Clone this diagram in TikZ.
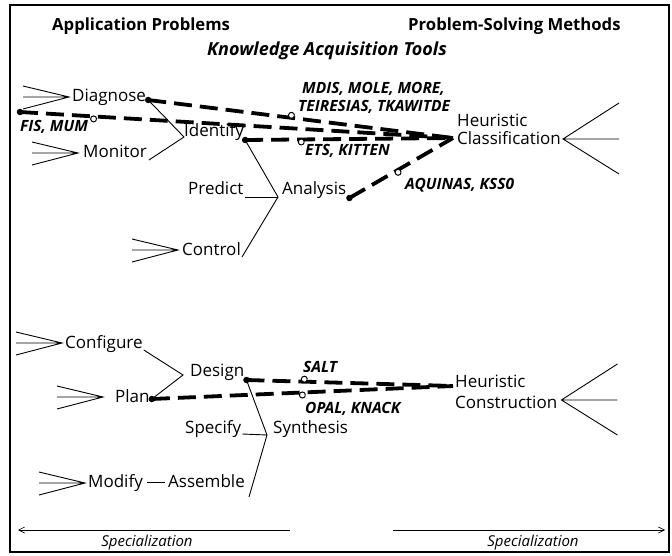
\documentclass[tikz,border=0pt]{standalone}
\usepackage{fontspec}
\setmainfont{Open Sans}
\usetikzlibrary{calc,arrows.meta}
\begin{document}
\begin{tikzpicture}[x=1pt,y=-1pt,
  lbl/.style={font=\fontsize{17}{20}\selectfont, inner sep=0pt, anchor=base west},
  head/.style={font=\bfseries\fontsize{16.7}{19}\selectfont, inner sep=0pt, anchor=base west},
  khead/.style={font=\bfseries\itshape\fontsize{18}{21}\selectfont, inner sep=0pt, anchor=base west},
  tool/.style={font=\bfseries\itshape\fontsize{15.5}{17}\selectfont, inner sep=0pt, anchor=base west},
  spec/.style={font=\itshape\fontsize{15}{17}\selectfont, inner sep=0pt, anchor=base},
  link/.style={line width=0.9pt},
  kat/.style={line width=3.8pt, dash pattern=on 18pt off 8pt},
  dotb/.style={circle, fill, inner sep=0pt, minimum size=6.5pt},
  ring/.style={circle, draw, fill=white, inner sep=0pt, minimum size=6pt, line width=1pt},
  fanin/.pic={\draw[link] (-46,-11) -- (0,0) -- (-46,12) (-46,0) -- (0,0);},
  fanout/.pic={\draw[link] (56,-36) -- (0,0) -- (56,35) (0,0) -- (56,0);}
]
\useasboundingbox (0,0) rectangle (672,556);
% outer frame
\draw[line width=1.5pt] (10,5) rectangle (669,552);

% column headings
\node[head] (ap) at (52,31) {Application Problems};
\node[head] (psm) at (408,31) {Problem-Solving Methods};
\node[khead] (katitle) at (207,56) {Knowledge Acquisition Tools};

% ---- analysis tree ----
\node[lbl] (diag) at (72,102) {Diagnose};
\node[lbl] (mon) at (83,158) {Monitor};
\node[lbl] (ident) at (184,137) {Identify};
\node[lbl] (pred) at (188,195) {Predict};
\node[lbl] (anal) at (282,195) {Analysis};
\node[lbl] (ctrl) at (182,255) {Control};
\node[lbl] (hc1) at (457,127) {Heuristic};
\node[lbl] (hc2) at (457,145) {Classification};

% ---- synthesis tree ----
\node[lbl] (conf) at (65,348) {Configure};
\node[lbl] (plan) at (115,402) {Plan};
\node[lbl] (des) at (190,376) {Design};
\node[lbl] (spcf) at (185,433) {Specify};
\node[lbl] (syn) at (273,433) {Synthesis};
\node[lbl] (mod) at (88,487) {Modify};
\node[lbl] (asm) at (168,487) {Assemble};
\node[lbl] (hn1) at (455,387) {Heuristic};
\node[lbl] (hn2) at (455,408) {Construction};

% ---- tool labels ----
\node[tool] (t1) at (302,94) {MDIS, MOLE, MORE,};
\node[tool] (t2) at (298,112) {TEIRESIAS, TKAWITDE};
\node[tool] (t3) at (20,132) {FIS, MUM};
\node[tool] (t4) at (305,156) {ETS, KITTEN};
\node[tool] (t5) at (405,190) {AQUINAS, KSS0};
\node[tool] (t6) at (303,372) {SALT};
\node[tool] (t7) at (305,413) {OPAL, KNACK};

% fan-in points in front of the leaf tasks
\coordinate (dgA) at ($(diag.base west)+(-3,-5)$);
\coordinate (mnA) at ($(mon.base west)+(-5,-5)$);
\coordinate (ctA) at ($(ctrl.base west)+(-4,-5)$);
\coordinate (cfA) at ($(conf.base west)+(-3,-5)$);
\coordinate (plA) at ($(plan.base west)+(-12,-5)$);
\coordinate (mdA) at ($(mod.base west)+(-3,-4)$);
\foreach \c in {dgA,mnA,ctA,cfA,plA,mdA} \pic at (\c) {fanin};

% fan-out behind the methods
\pic at ($(hc2.base east)+(2,-6)$) {fanout};
\pic at ($(hn2.base east)+(4,-8)$) {fanout};

% junctions and line ends
\coordinate (dgE) at ($(diag.base east)+(2,-2)$);
\coordinate (mnE) at ($(mon.base east)+(2,2)$);
\coordinate (idJ) at (ident.base west);
\coordinate (idE) at ($(ident.base east)+(1,3)$);
\coordinate (prE) at ($(pred.base east)+(1,2)$);
\coordinate (ctE) at ($(ctrl.base east)+(1,2)$);
\coordinate (anJ) at ($(anal.base west)+(-4,2)$);
\coordinate (anE) at ($(anal.base east)+(3,3)$);
\coordinate (cfE) at ($(conf.base east)+(1,2)$);
\coordinate (plE) at ($(plan.base east)+(2,-3)$);
\coordinate (deJ) at ($(des.base west)+(-7,-1)$);
\coordinate (deE) at ($(des.base east)+(2,4)$);
\coordinate (spE) at ($(spcf.base east)+(1,1)$);
\coordinate (syJ) at ($(syn.base west)+(-6,2)$);
\coordinate (asE) at ($(asm.base east)+(4,10)$);
\coordinate (hcJ) at ($(hc2.base west)+(-4,-7)$);
\coordinate (hnJ) at ($(hn1.base west)+(-2,-1)$);
\coordinate (fisS) at (20,112);

% tree links
\draw[link] (dgE) -- (idJ) -- (mnE);
\draw[link] (idE) -- (anJ) -- (ctE);
\draw[link] (prE) -- (anJ);
\draw[link] (cfE) -- (deJ) -- (plE);
\draw[link] (deE) -- (syJ) -- (asE);
\draw[link] (spE) -- (syJ);
\draw[link] ($(mod.base east)+(4,-5)$) -- ($(asm.base west)+(-3,-5)$);

% knowledge acquisition tool links
\draw[kat] (fisS) -- node[ring,pos=.17,yshift=-2.5pt] (r1) {} (hcJ);
\draw[kat] (dgE) -- node[ring,pos=.47,yshift=2.5pt] (r2) {} (hcJ);
\draw[kat] (idE) -- node[ring,pos=.27,yshift=-2.5pt] (r3) {} (hcJ);
\draw[kat] (anE) -- node[ring,pos=.47,yshift=-2.5pt] (r4) {} (hcJ);
\draw[kat] (deE) -- node[ring,pos=.28,yshift=2.5pt] (r5) {} (hnJ);
\draw[kat] (plE) -- node[ring,pos=.5,yshift=-2.5pt] (r6) {} (hnJ);
\node[dotb] (d1) at (fisS) {};
\node[dotb] (d2) at (dgE) {};
\node[dotb] (d3) at (idE) {};
\node[dotb] (d4) at (anE) {};
\node[dotb] (d5) at (deE) {};
\node[dotb] (d6) at (plE) {};

% specialization arrows
\coordinate (sl1) at (290,530);
\coordinate (sl2) at (18,530);
\coordinate (sr1) at (393,530);
\coordinate (sr2) at (665,530);
\draw[line width=0.6pt, -{Straight Barb[length=6pt,width=6pt]}] (sl1) -- (sl2);
\draw[line width=0.6pt, -{Straight Barb[length=6pt,width=6pt]}] (sr1) -- (sr2);
\node[spec] (sp1) at (147,546) {Specialization};
\node[spec] (sp2) at (533,546) {Specialization};
\end{tikzpicture}
\end{document}
